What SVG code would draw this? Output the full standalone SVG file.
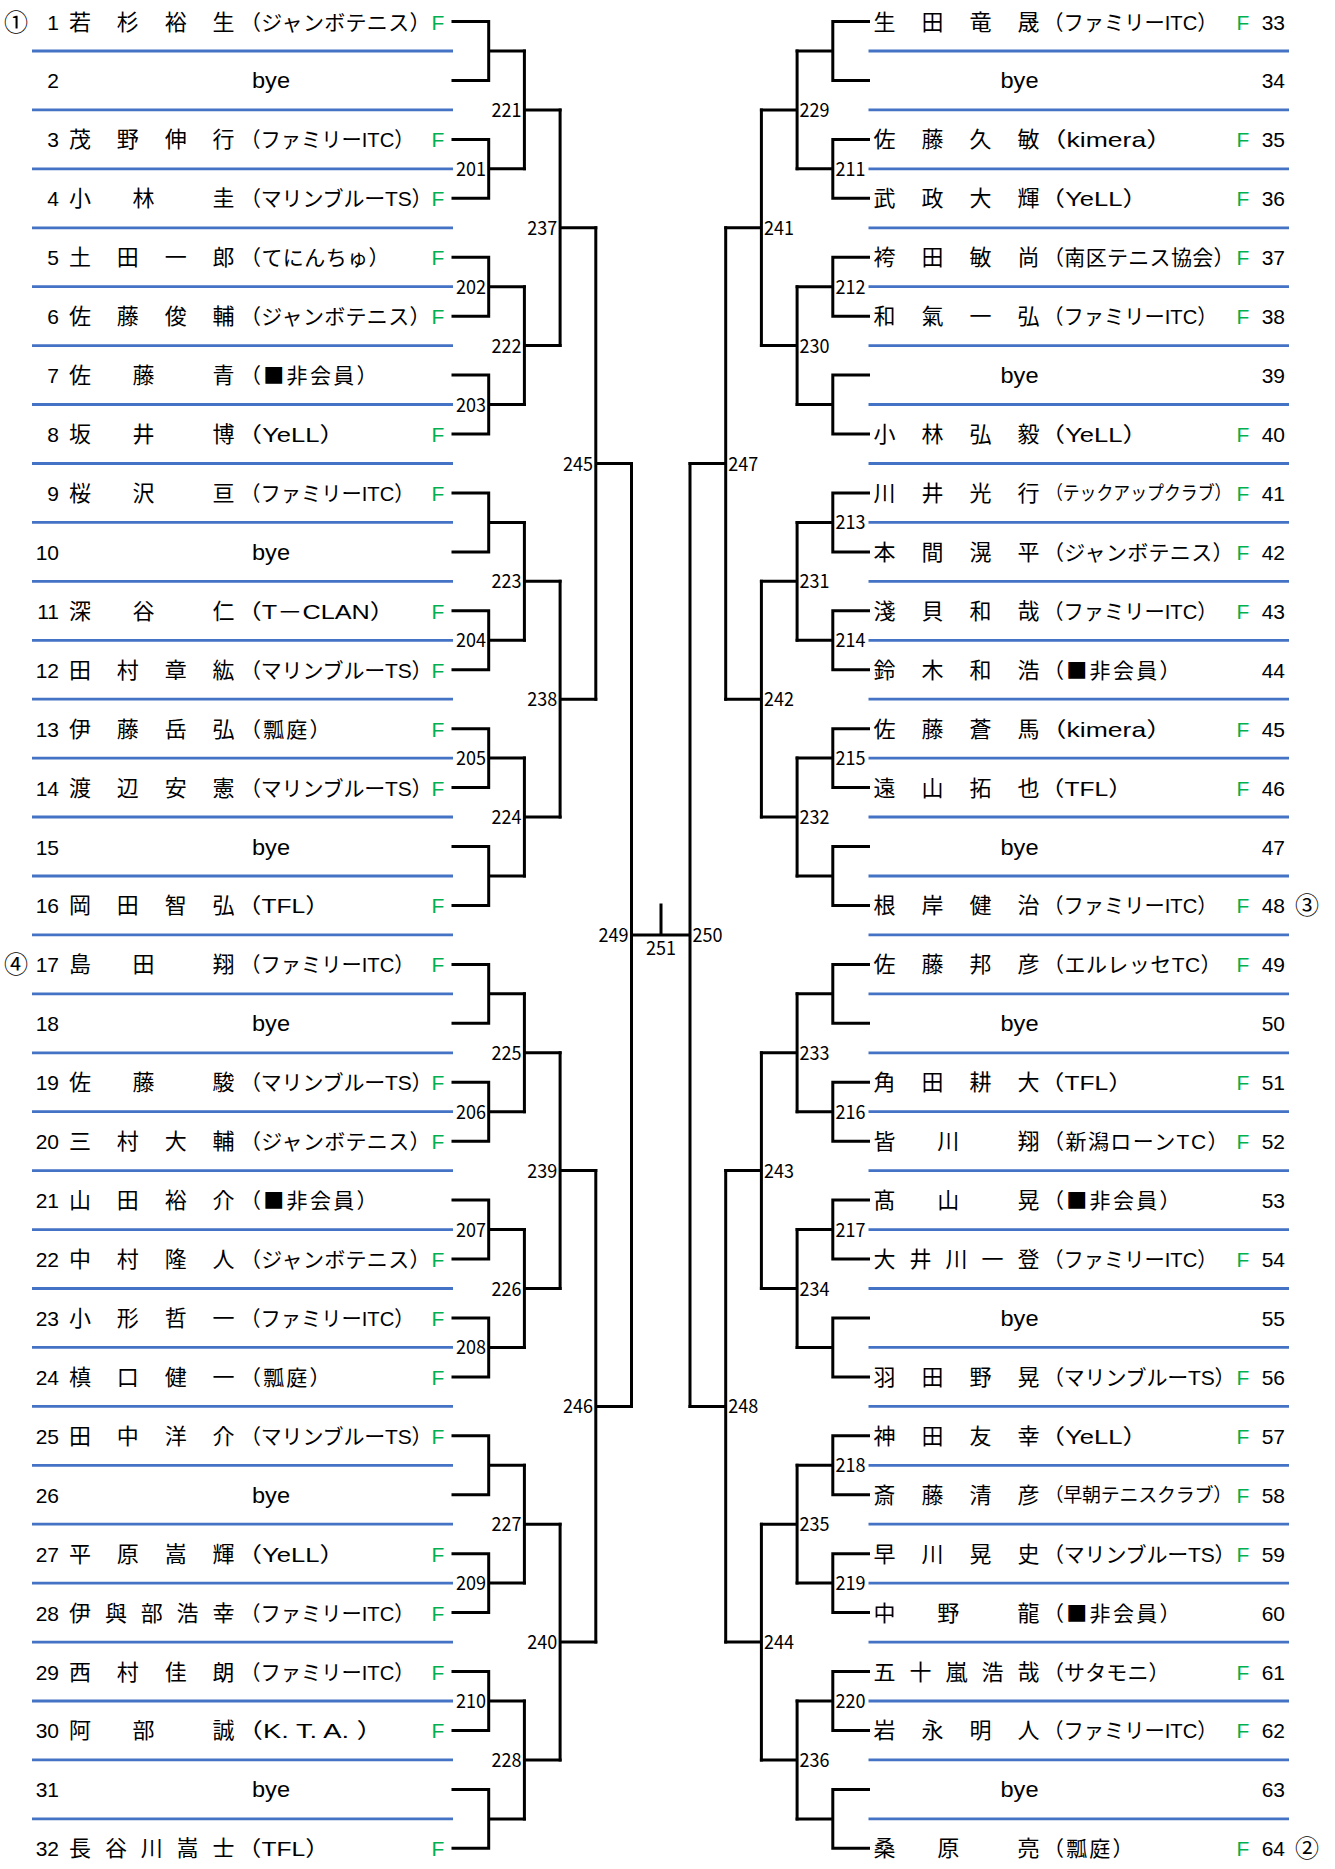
<svg xmlns="http://www.w3.org/2000/svg" width="1335" height="1869" viewBox="0 0 1335 1869">
<style>
text{font-family:"Noto Sans CJK JP",sans-serif;fill:#000}
.nm{font-size:22px;text-anchor:middle}
.cl{font-size:21px}
.sm{font-size:19px}
.lt{font-family:"Liberation Sans",sans-serif}
.no{font-family:"Liberation Sans","Noto Sans CJK JP",sans-serif;font-size:21px;text-anchor:end}
.f{font-family:"Liberation Sans",sans-serif;font-size:21px;fill:#00B050;text-anchor:middle}
.by{font-family:"Liberation Sans",sans-serif;font-size:22px}
.lb{font-family:"Liberation Sans",sans-serif;font-size:19px}
.mk{font-size:24px;text-anchor:middle}
.blue{fill:none;stroke:#4472C4;stroke-width:2.8}
.br{fill:none;stroke:#000;stroke-width:3;stroke-linecap:square;stroke-linejoin:miter}
</style>
<rect width="1335" height="1869" fill="#fff"/>
<g id="dividers">
<path class="blue" d="M32 51H453M32 109.9H453M32 168.8H453M32 227.8H453M32 286.7H453M32 345.6H453M32 404.5H453M32 463.5H453M32 522.4H453M32 581.3H453M32 640.3H453M32 699.2H453M32 758.1H453M32 817H453M32 876H453M32 934.9H453M32 993.8H453M32 1052.8H453M32 1111.7H453M32 1170.6H453M32 1229.6H453M32 1288.5H453M32 1347.4H453M32 1406.4H453M32 1465.3H453M32 1524.2H453M32 1583.1H453M32 1642.1H453M32 1701H453M32 1759.9H453M32 1818.9H453"/>
<path class="blue" d="M868.5 51H1289M868.5 109.9H1289M868.5 168.8H1289M868.5 227.8H1289M868.5 286.7H1289M868.5 345.6H1289M868.5 404.5H1289M868.5 463.5H1289M868.5 522.4H1289M868.5 581.3H1289M868.5 640.3H1289M868.5 699.2H1289M868.5 758.1H1289M868.5 817H1289M868.5 876H1289M868.5 934.9H1289M868.5 993.8H1289M868.5 1052.8H1289M868.5 1111.7H1289M868.5 1170.6H1289M868.5 1229.6H1289M868.5 1288.5H1289M868.5 1347.4H1289M868.5 1406.4H1289M868.5 1465.3H1289M868.5 1524.2H1289M868.5 1583.1H1289M868.5 1642.1H1289M868.5 1701H1289M868.5 1759.9H1289M868.5 1818.9H1289"/>
</g>
<g id="connectors">
<path class="br" d="M453 21.5H488.7V80.4H453M488.7 51H524.4M453 139.4H488.7V198.3H453M488.7 168.8H524.4M453 257.2H488.7V316.2H453M488.7 286.7H524.4M453 375.1H488.7V434H453M488.7 404.5H524.4M453 492.9H488.7V551.9H453M488.7 522.4H524.4M453 610.8H488.7V669.7H453M488.7 640.3H524.4M453 728.7H488.7V787.6H453M488.7 758.1H524.4M453 846.5H488.7V905.4H453M488.7 876H524.4M453 964.4H488.7V1023.3H453M488.7 993.8H524.4M453 1082.2H488.7V1141.2H453M488.7 1111.7H524.4M453 1200.1H488.7V1259H453M488.7 1229.6H524.4M453 1317.9H488.7V1376.9H453M488.7 1347.4H524.4M453 1435.8H488.7V1494.7H453M488.7 1465.3H524.4M453 1553.7H488.7V1612.6H453M488.7 1583.1H524.4M453 1671.5H488.7V1730.4H453M488.7 1701H524.4M453 1789.4H488.7V1848.3H453M488.7 1818.9H524.4"/>
<path class="br" d="M524.4 51V168.8M524.4 109.9H560.1M524.4 286.7V404.5M524.4 345.6H560.1M524.4 522.4V640.3M524.4 581.3H560.1M524.4 758.1V876M524.4 817H560.1M524.4 993.8V1111.7M524.4 1052.8H560.1M524.4 1229.6V1347.4M524.4 1288.5H560.1M524.4 1465.3V1583.1M524.4 1524.2H560.1M524.4 1701V1818.9M524.4 1759.9H560.1"/>
<path class="br" d="M560.1 109.9V345.6M560.1 227.8H595.8M560.1 581.3V817M560.1 699.2H595.8M560.1 1052.8V1288.5M560.1 1170.6H595.8M560.1 1524.2V1759.9M560.1 1642.1H595.8"/>
<path class="br" d="M595.8 227.8V699.2M595.8 463.5H631.5M595.8 1170.6V1642.1M595.8 1406.4H631.5"/>
<path class="br" d="M631.5 463.5V1406.4M631.5 934.9H690M690 463.5V1406.4M661 905V934.9"/>
<path class="br" d="M868.5 21.5H832.8V80.4H868.5M832.8 51H797.1M868.5 139.4H832.8V198.3H868.5M832.8 168.8H797.1M868.5 257.2H832.8V316.2H868.5M832.8 286.7H797.1M868.5 375.1H832.8V434H868.5M832.8 404.5H797.1M868.5 492.9H832.8V551.9H868.5M832.8 522.4H797.1M868.5 610.8H832.8V669.7H868.5M832.8 640.3H797.1M868.5 728.7H832.8V787.6H868.5M832.8 758.1H797.1M868.5 846.5H832.8V905.4H868.5M832.8 876H797.1M868.5 964.4H832.8V1023.3H868.5M832.8 993.8H797.1M868.5 1082.2H832.8V1141.2H868.5M832.8 1111.7H797.1M868.5 1200.1H832.8V1259H868.5M832.8 1229.6H797.1M868.5 1317.9H832.8V1376.9H868.5M832.8 1347.4H797.1M868.5 1435.8H832.8V1494.7H868.5M832.8 1465.3H797.1M868.5 1553.7H832.8V1612.6H868.5M832.8 1583.1H797.1M868.5 1671.5H832.8V1730.4H868.5M832.8 1701H797.1M868.5 1789.4H832.8V1848.3H868.5M832.8 1818.9H797.1"/>
<path class="br" d="M797.1 51V168.8M797.1 109.9H761.4M797.1 286.7V404.5M797.1 345.6H761.4M797.1 522.4V640.3M797.1 581.3H761.4M797.1 758.1V876M797.1 817H761.4M797.1 993.8V1111.7M797.1 1052.8H761.4M797.1 1229.6V1347.4M797.1 1288.5H761.4M797.1 1465.3V1583.1M797.1 1524.2H761.4M797.1 1701V1818.9M797.1 1759.9H761.4"/>
<path class="br" d="M761.4 109.9V345.6M761.4 227.8H725.7M761.4 581.3V817M761.4 699.2H725.7M761.4 1052.8V1288.5M761.4 1170.6H725.7M761.4 1524.2V1759.9M761.4 1642.1H725.7"/>
<path class="br" d="M725.7 227.8V699.2M725.7 463.5H690M725.7 1170.6V1642.1M725.7 1406.4H690"/>
</g>
<g id="match-labels" class="lb">
<text x="456" y="175.8" textLength="30" lengthAdjust="spacingAndGlyphs">201</text>
<text x="456" y="293.7" textLength="30" lengthAdjust="spacingAndGlyphs">202</text>
<text x="456" y="411.5" textLength="30" lengthAdjust="spacingAndGlyphs">203</text>
<text x="456" y="647.3" textLength="30" lengthAdjust="spacingAndGlyphs">204</text>
<text x="456" y="765.1" textLength="30" lengthAdjust="spacingAndGlyphs">205</text>
<text x="456" y="1118.7" textLength="30" lengthAdjust="spacingAndGlyphs">206</text>
<text x="456" y="1236.6" textLength="30" lengthAdjust="spacingAndGlyphs">207</text>
<text x="456" y="1354.4" textLength="30" lengthAdjust="spacingAndGlyphs">208</text>
<text x="456" y="1590.1" textLength="30" lengthAdjust="spacingAndGlyphs">209</text>
<text x="456" y="1708" textLength="30" lengthAdjust="spacingAndGlyphs">210</text>
<text x="491.5" y="116.9" textLength="30" lengthAdjust="spacingAndGlyphs">221</text>
<text x="491.5" y="352.6" textLength="30" lengthAdjust="spacingAndGlyphs">222</text>
<text x="491.5" y="588.3" textLength="30" lengthAdjust="spacingAndGlyphs">223</text>
<text x="491.5" y="824" textLength="30" lengthAdjust="spacingAndGlyphs">224</text>
<text x="491.5" y="1059.8" textLength="30" lengthAdjust="spacingAndGlyphs">225</text>
<text x="491.5" y="1295.5" textLength="30" lengthAdjust="spacingAndGlyphs">226</text>
<text x="491.5" y="1531.2" textLength="30" lengthAdjust="spacingAndGlyphs">227</text>
<text x="491.5" y="1766.9" textLength="30" lengthAdjust="spacingAndGlyphs">228</text>
<text x="527.2" y="234.8" textLength="30" lengthAdjust="spacingAndGlyphs">237</text>
<text x="527.2" y="706.2" textLength="30" lengthAdjust="spacingAndGlyphs">238</text>
<text x="527.2" y="1177.6" textLength="30" lengthAdjust="spacingAndGlyphs">239</text>
<text x="527.2" y="1649.1" textLength="30" lengthAdjust="spacingAndGlyphs">240</text>
<text x="563" y="470.5" textLength="30" lengthAdjust="spacingAndGlyphs">245</text>
<text x="563" y="1413.4" textLength="30" lengthAdjust="spacingAndGlyphs">246</text>
<text x="598.6" y="941.9" textLength="30" lengthAdjust="spacingAndGlyphs">249</text>
<text x="646" y="955" textLength="30" lengthAdjust="spacingAndGlyphs">251</text>
<text x="692.5" y="941.9" textLength="30" lengthAdjust="spacingAndGlyphs">250</text>
<text x="728.2" y="470.5" textLength="30" lengthAdjust="spacingAndGlyphs">247</text>
<text x="728.2" y="1413.4" textLength="30" lengthAdjust="spacingAndGlyphs">248</text>
<text x="763.9" y="234.8" textLength="30" lengthAdjust="spacingAndGlyphs">241</text>
<text x="763.9" y="706.2" textLength="30" lengthAdjust="spacingAndGlyphs">242</text>
<text x="763.9" y="1177.6" textLength="30" lengthAdjust="spacingAndGlyphs">243</text>
<text x="763.9" y="1649.1" textLength="30" lengthAdjust="spacingAndGlyphs">244</text>
<text x="799.6" y="116.9" textLength="30" lengthAdjust="spacingAndGlyphs">229</text>
<text x="799.6" y="352.6" textLength="30" lengthAdjust="spacingAndGlyphs">230</text>
<text x="799.6" y="588.3" textLength="30" lengthAdjust="spacingAndGlyphs">231</text>
<text x="799.6" y="824" textLength="30" lengthAdjust="spacingAndGlyphs">232</text>
<text x="799.6" y="1059.8" textLength="30" lengthAdjust="spacingAndGlyphs">233</text>
<text x="799.6" y="1295.5" textLength="30" lengthAdjust="spacingAndGlyphs">234</text>
<text x="799.6" y="1531.2" textLength="30" lengthAdjust="spacingAndGlyphs">235</text>
<text x="799.6" y="1766.9" textLength="30" lengthAdjust="spacingAndGlyphs">236</text>
<text x="835.5" y="175.8" textLength="30" lengthAdjust="spacingAndGlyphs">211</text>
<text x="835.5" y="293.7" textLength="30" lengthAdjust="spacingAndGlyphs">212</text>
<text x="835.5" y="529.4" textLength="30" lengthAdjust="spacingAndGlyphs">213</text>
<text x="835.5" y="647.3" textLength="30" lengthAdjust="spacingAndGlyphs">214</text>
<text x="835.5" y="765.1" textLength="30" lengthAdjust="spacingAndGlyphs">215</text>
<text x="835.5" y="1118.7" textLength="30" lengthAdjust="spacingAndGlyphs">216</text>
<text x="835.5" y="1236.6" textLength="30" lengthAdjust="spacingAndGlyphs">217</text>
<text x="835.5" y="1472.3" textLength="30" lengthAdjust="spacingAndGlyphs">218</text>
<text x="835.5" y="1590.1" textLength="30" lengthAdjust="spacingAndGlyphs">219</text>
<text x="835.5" y="1708" textLength="30" lengthAdjust="spacingAndGlyphs">220</text>
</g>
<g id="seeds" class="mk">
<text x="16" y="30.5">①</text>
<text x="16" y="973.4">④</text>
<text x="1307" y="914.4">③</text>
<text x="1307" y="1857.3">②</text>
</g>
<g id="left-players">
<g id="p1" transform="translate(0,21.5)"><text class="no" x="59" y="8">1</text><text class="nm" x="80 127.8 175.7 223.5" y="8">若杉裕生</text><text class="cl" x="240" y="8" textLength="190.5" lengthAdjust="spacing">（ジャンボテニス）</text><text class="f" x="438" y="8">F</text></g>
<g id="p2" transform="translate(0,80.4)"><text class="no" x="59" y="8">2</text><text class="by" x="252" y="8" textLength="38" lengthAdjust="spacingAndGlyphs">bye</text></g>
<g id="p3" transform="translate(0,139.4)"><text class="no" x="59" y="8">3</text><text class="nm" x="80 127.8 175.7 223.5" y="8">茂野伸行</text><text class="cl" x="240.3" y="8" textLength="174.3" lengthAdjust="spacingAndGlyphs">（ファミリー<tspan class="lt">ITC</tspan>）</text><text class="f" x="438" y="8">F</text></g>
<g id="p4" transform="translate(0,198.3)"><text class="no" x="59" y="8">4</text><text class="nm" x="80 143.6 223.5" y="8">小林圭</text><text class="cl" x="240" y="8" textLength="192.5" lengthAdjust="spacing">（マリンブルー<tspan class="lt">TS</tspan>）</text><text class="f" x="438" y="8">F</text></g>
<g id="p5" transform="translate(0,257.2)"><text class="no" x="59" y="8">5</text><text class="nm" x="80 127.8 175.7 223.5" y="8">土田一郎</text><text class="cl" x="240" y="8" textLength="149.5" lengthAdjust="spacing">（てにんちゅ）</text><text class="f" x="438" y="8">F</text></g>
<g id="p6" transform="translate(0,316.2)"><text class="no" x="59" y="8">6</text><text class="nm" x="80 127.8 175.7 223.5" y="8">佐藤俊輔</text><text class="cl" x="240" y="8" textLength="190.5" lengthAdjust="spacing">（ジャンボテニス）</text><text class="f" x="438" y="8">F</text></g>
<g id="p7" transform="translate(0,375.1)"><text class="no" x="59" y="8">7</text><text class="nm" x="80 143.6 223.5" y="8">佐藤青</text><text class="cl" x="240" y="8" textLength="137.5" lengthAdjust="spacing">（■非会員）</text></g>
<g id="p8" transform="translate(0,434)"><text class="no" x="59" y="8">8</text><text class="nm" x="80 143.6 223.5" y="8">坂井博</text><text class="cl" x="236.6" y="8" textLength="108.5" lengthAdjust="spacingAndGlyphs">（<tspan class="lt">YeLL</tspan>）</text><text class="f" x="438" y="8">F</text></g>
<g id="p9" transform="translate(0,492.9)"><text class="no" x="59" y="8">9</text><text class="nm" x="80 143.6 223.5" y="8">桜沢亘</text><text class="cl" x="240.3" y="8" textLength="174.3" lengthAdjust="spacingAndGlyphs">（ファミリー<tspan class="lt">ITC</tspan>）</text><text class="f" x="438" y="8">F</text></g>
<g id="p10" transform="translate(0,551.9)"><text class="no" x="59" y="8">10</text><text class="by" x="252" y="8" textLength="38" lengthAdjust="spacingAndGlyphs">bye</text></g>
<g id="p11" transform="translate(0,610.8)"><text class="no" x="59" y="8">11</text><text class="nm" x="80 143.6 223.5" y="8">深谷仁</text><text class="cl" x="236.6" y="8" textLength="158.5" lengthAdjust="spacingAndGlyphs">（<tspan class="lt">T</tspan>－<tspan class="lt">CLAN</tspan>）</text><text class="f" x="438" y="8">F</text></g>
<g id="p12" transform="translate(0,669.7)"><text class="no" x="59" y="8">12</text><text class="nm" x="80 127.8 175.7 223.5" y="8">田村章紘</text><text class="cl" x="240" y="8" textLength="192.5" lengthAdjust="spacing">（マリンブルー<tspan class="lt">TS</tspan>）</text><text class="f" x="438" y="8">F</text></g>
<g id="p13" transform="translate(0,728.7)"><text class="no" x="59" y="8">13</text><text class="nm" x="80 127.8 175.7 223.5" y="8">伊藤岳弘</text><text class="cl" x="240" y="8" textLength="90.5" lengthAdjust="spacing">（瓢庭）</text><text class="f" x="438" y="8">F</text></g>
<g id="p14" transform="translate(0,787.6)"><text class="no" x="59" y="8">14</text><text class="nm" x="80 127.8 175.7 223.5" y="8">渡辺安憲</text><text class="cl" x="240" y="8" textLength="192.5" lengthAdjust="spacing">（マリンブルー<tspan class="lt">TS</tspan>）</text><text class="f" x="438" y="8">F</text></g>
<g id="p15" transform="translate(0,846.5)"><text class="no" x="59" y="8">15</text><text class="by" x="252" y="8" textLength="38" lengthAdjust="spacingAndGlyphs">bye</text></g>
<g id="p16" transform="translate(0,905.4)"><text class="no" x="59" y="8">16</text><text class="nm" x="80 127.8 175.7 223.5" y="8">岡田智弘</text><text class="cl" x="236.8" y="8" textLength="93" lengthAdjust="spacingAndGlyphs">（<tspan class="lt">TFL</tspan>）</text><text class="f" x="438" y="8">F</text></g>
<g id="p17" transform="translate(0,964.4)"><text class="no" x="59" y="8">17</text><text class="nm" x="80 143.6 223.5" y="8">島田翔</text><text class="cl" x="240.3" y="8" textLength="174.3" lengthAdjust="spacingAndGlyphs">（ファミリー<tspan class="lt">ITC</tspan>）</text><text class="f" x="438" y="8">F</text></g>
<g id="p18" transform="translate(0,1023.3)"><text class="no" x="59" y="8">18</text><text class="by" x="252" y="8" textLength="38" lengthAdjust="spacingAndGlyphs">bye</text></g>
<g id="p19" transform="translate(0,1082.2)"><text class="no" x="59" y="8">19</text><text class="nm" x="80 143.6 223.5" y="8">佐藤駿</text><text class="cl" x="240" y="8" textLength="192.5" lengthAdjust="spacing">（マリンブルー<tspan class="lt">TS</tspan>）</text><text class="f" x="438" y="8">F</text></g>
<g id="p20" transform="translate(0,1141.2)"><text class="no" x="59" y="8">20</text><text class="nm" x="80 127.8 175.7 223.5" y="8">三村大輔</text><text class="cl" x="240" y="8" textLength="190.5" lengthAdjust="spacing">（ジャンボテニス）</text><text class="f" x="438" y="8">F</text></g>
<g id="p21" transform="translate(0,1200.1)"><text class="no" x="59" y="8">21</text><text class="nm" x="80 127.8 175.7 223.5" y="8">山田裕介</text><text class="cl" x="240" y="8" textLength="137.5" lengthAdjust="spacing">（■非会員）</text></g>
<g id="p22" transform="translate(0,1259)"><text class="no" x="59" y="8">22</text><text class="nm" x="80 127.8 175.7 223.5" y="8">中村隆人</text><text class="cl" x="240" y="8" textLength="190.5" lengthAdjust="spacing">（ジャンボテニス）</text><text class="f" x="438" y="8">F</text></g>
<g id="p23" transform="translate(0,1317.9)"><text class="no" x="59" y="8">23</text><text class="nm" x="80 127.8 175.7 223.5" y="8">小形哲一</text><text class="cl" x="240.3" y="8" textLength="174.3" lengthAdjust="spacingAndGlyphs">（ファミリー<tspan class="lt">ITC</tspan>）</text><text class="f" x="438" y="8">F</text></g>
<g id="p24" transform="translate(0,1376.9)"><text class="no" x="59" y="8">24</text><text class="nm" x="80 127.8 175.7 223.5" y="8">槙口健一</text><text class="cl" x="240" y="8" textLength="90.5" lengthAdjust="spacing">（瓢庭）</text><text class="f" x="438" y="8">F</text></g>
<g id="p25" transform="translate(0,1435.8)"><text class="no" x="59" y="8">25</text><text class="nm" x="80 127.8 175.7 223.5" y="8">田中洋介</text><text class="cl" x="240" y="8" textLength="192.5" lengthAdjust="spacing">（マリンブルー<tspan class="lt">TS</tspan>）</text><text class="f" x="438" y="8">F</text></g>
<g id="p26" transform="translate(0,1494.7)"><text class="no" x="59" y="8">26</text><text class="by" x="252" y="8" textLength="38" lengthAdjust="spacingAndGlyphs">bye</text></g>
<g id="p27" transform="translate(0,1553.7)"><text class="no" x="59" y="8">27</text><text class="nm" x="80 127.8 175.7 223.5" y="8">平原嵩輝</text><text class="cl" x="236.6" y="8" textLength="108.5" lengthAdjust="spacingAndGlyphs">（<tspan class="lt">YeLL</tspan>）</text><text class="f" x="438" y="8">F</text></g>
<g id="p28" transform="translate(0,1612.6)"><text class="no" x="59" y="8">28</text><text class="nm" x="80 115.9 151.8 187.6 223.5" y="8">伊與部浩幸</text><text class="cl" x="240.3" y="8" textLength="174.3" lengthAdjust="spacingAndGlyphs">（ファミリー<tspan class="lt">ITC</tspan>）</text><text class="f" x="438" y="8">F</text></g>
<g id="p29" transform="translate(0,1671.5)"><text class="no" x="59" y="8">29</text><text class="nm" x="80 127.8 175.7 223.5" y="8">西村佳朗</text><text class="cl" x="240.3" y="8" textLength="174.3" lengthAdjust="spacingAndGlyphs">（ファミリー<tspan class="lt">ITC</tspan>）</text><text class="f" x="438" y="8">F</text></g>
<g id="p30" transform="translate(0,1730.4)"><text class="no" x="59" y="8">30</text><text class="nm" x="80 143.6 223.5" y="8">阿部誠</text><text class="cl" x="235.7" y="8" textLength="148.2" lengthAdjust="spacingAndGlyphs">（<tspan class="lt">K. T. A. </tspan>）</text><text class="f" x="438" y="8">F</text></g>
<g id="p31" transform="translate(0,1789.4)"><text class="no" x="59" y="8">31</text><text class="by" x="252" y="8" textLength="38" lengthAdjust="spacingAndGlyphs">bye</text></g>
<g id="p32" transform="translate(0,1848.3)"><text class="no" x="59" y="8">32</text><text class="nm" x="80 115.9 151.8 187.6 223.5" y="8">長谷川嵩士</text><text class="cl" x="236.8" y="8" textLength="93" lengthAdjust="spacingAndGlyphs">（<tspan class="lt">TFL</tspan>）</text><text class="f" x="438" y="8">F</text></g>
</g>
<g id="right-players">
<g id="p33" transform="translate(0,21.5)"><text class="nm" x="884.5 932.5 980.5 1028.5" y="8">生田竜晟</text><text class="cl" x="1043.3" y="8" textLength="174.3" lengthAdjust="spacingAndGlyphs">（ファミリー<tspan class="lt">ITC</tspan>）</text><text class="f" x="1243" y="8">F</text><text class="no" x="1285" y="8">33</text></g>
<g id="p34" transform="translate(0,80.4)"><text class="by" x="1000.5" y="8" textLength="38" lengthAdjust="spacingAndGlyphs">bye</text><text class="no" x="1285" y="8">34</text></g>
<g id="p35" transform="translate(0,139.4)"><text class="nm" x="884.5 932.5 980.5 1028.5" y="8">佐藤久敏</text><text class="cl" x="1040" y="8" textLength="132.7" lengthAdjust="spacingAndGlyphs">（<tspan class="lt">kimera</tspan>）</text><text class="f" x="1243" y="8">F</text><text class="no" x="1285" y="8">35</text></g>
<g id="p36" transform="translate(0,198.3)"><text class="nm" x="884.5 932.5 980.5 1028.5" y="8">武政大輝</text><text class="cl" x="1039.6" y="8" textLength="108.5" lengthAdjust="spacingAndGlyphs">（<tspan class="lt">YeLL</tspan>）</text><text class="f" x="1243" y="8">F</text><text class="no" x="1285" y="8">36</text></g>
<g id="p37" transform="translate(0,257.2)"><text class="nm" x="884.5 932.5 980.5 1028.5" y="8">袴田敏尚</text><text class="cl" x="1043" y="8" textLength="191.5" lengthAdjust="spacing">（南区テニス協会）</text><text class="f" x="1243" y="8">F</text><text class="no" x="1285" y="8">37</text></g>
<g id="p38" transform="translate(0,316.2)"><text class="nm" x="884.5 932.5 980.5 1028.5" y="8">和氣一弘</text><text class="cl" x="1043.3" y="8" textLength="174.3" lengthAdjust="spacingAndGlyphs">（ファミリー<tspan class="lt">ITC</tspan>）</text><text class="f" x="1243" y="8">F</text><text class="no" x="1285" y="8">38</text></g>
<g id="p39" transform="translate(0,375.1)"><text class="by" x="1000.5" y="8" textLength="38" lengthAdjust="spacingAndGlyphs">bye</text><text class="no" x="1285" y="8">39</text></g>
<g id="p40" transform="translate(0,434)"><text class="nm" x="884.5 932.5 980.5 1028.5" y="8">小林弘毅</text><text class="cl" x="1039.6" y="8" textLength="108.5" lengthAdjust="spacingAndGlyphs">（<tspan class="lt">YeLL</tspan>）</text><text class="f" x="1243" y="8">F</text><text class="no" x="1285" y="8">40</text></g>
<g id="p41" transform="translate(0,492.9)"><text class="nm" x="884.5 932.5 980.5 1028.5" y="8">川井光行</text><text class="cl sm" x="1045.9" y="7.3" textLength="185.5" lengthAdjust="spacingAndGlyphs">（テックアップクラブ）</text><text class="f" x="1243" y="8">F</text><text class="no" x="1285" y="8">41</text></g>
<g id="p42" transform="translate(0,551.9)"><text class="nm" x="884.5 932.5 980.5 1028.5" y="8">本間滉平</text><text class="cl" x="1043" y="8" textLength="190.5" lengthAdjust="spacing">（ジャンボテニス）</text><text class="f" x="1243" y="8">F</text><text class="no" x="1285" y="8">42</text></g>
<g id="p43" transform="translate(0,610.8)"><text class="nm" x="884.5 932.5 980.5 1028.5" y="8">淺貝和哉</text><text class="cl" x="1043.3" y="8" textLength="174.3" lengthAdjust="spacingAndGlyphs">（ファミリー<tspan class="lt">ITC</tspan>）</text><text class="f" x="1243" y="8">F</text><text class="no" x="1285" y="8">43</text></g>
<g id="p44" transform="translate(0,669.7)"><text class="nm" x="884.5 932.5 980.5 1028.5" y="8">鈴木和浩</text><text class="cl" x="1043" y="8" textLength="137.5" lengthAdjust="spacing">（■非会員）</text><text class="no" x="1285" y="8">44</text></g>
<g id="p45" transform="translate(0,728.7)"><text class="nm" x="884.5 932.5 980.5 1028.5" y="8">佐藤蒼馬</text><text class="cl" x="1040" y="8" textLength="132.7" lengthAdjust="spacingAndGlyphs">（<tspan class="lt">kimera</tspan>）</text><text class="f" x="1243" y="8">F</text><text class="no" x="1285" y="8">45</text></g>
<g id="p46" transform="translate(0,787.6)"><text class="nm" x="884.5 932.5 980.5 1028.5" y="8">遠山拓也</text><text class="cl" x="1039.8" y="8" textLength="93" lengthAdjust="spacingAndGlyphs">（<tspan class="lt">TFL</tspan>）</text><text class="f" x="1243" y="8">F</text><text class="no" x="1285" y="8">46</text></g>
<g id="p47" transform="translate(0,846.5)"><text class="by" x="1000.5" y="8" textLength="38" lengthAdjust="spacingAndGlyphs">bye</text><text class="no" x="1285" y="8">47</text></g>
<g id="p48" transform="translate(0,905.4)"><text class="nm" x="884.5 932.5 980.5 1028.5" y="8">根岸健治</text><text class="cl" x="1043.3" y="8" textLength="174.3" lengthAdjust="spacingAndGlyphs">（ファミリー<tspan class="lt">ITC</tspan>）</text><text class="f" x="1243" y="8">F</text><text class="no" x="1285" y="8">48</text></g>
<g id="p49" transform="translate(0,964.4)"><text class="nm" x="884.5 932.5 980.5 1028.5" y="8">佐藤邦彦</text><text class="cl" x="1043" y="8" textLength="178.5" lengthAdjust="spacing">（エルレッセ<tspan class="lt">TC</tspan>）</text><text class="f" x="1243" y="8">F</text><text class="no" x="1285" y="8">49</text></g>
<g id="p50" transform="translate(0,1023.3)"><text class="by" x="1000.5" y="8" textLength="38" lengthAdjust="spacingAndGlyphs">bye</text><text class="no" x="1285" y="8">50</text></g>
<g id="p51" transform="translate(0,1082.2)"><text class="nm" x="884.5 932.5 980.5 1028.5" y="8">角田耕大</text><text class="cl" x="1039.8" y="8" textLength="93" lengthAdjust="spacingAndGlyphs">（<tspan class="lt">TFL</tspan>）</text><text class="f" x="1243" y="8">F</text><text class="no" x="1285" y="8">51</text></g>
<g id="p52" transform="translate(0,1141.2)"><text class="nm" x="884.5 948.3 1028.5" y="8">皆川翔</text><text class="cl" x="1043" y="8" textLength="185.5" lengthAdjust="spacing">（新潟ローン<tspan class="lt">TC</tspan>）</text><text class="f" x="1243" y="8">F</text><text class="no" x="1285" y="8">52</text></g>
<g id="p53" transform="translate(0,1200.1)"><text class="nm" x="884.5 948.3 1028.5" y="8">髙山晃</text><text class="cl" x="1043" y="8" textLength="137.5" lengthAdjust="spacing">（■非会員）</text><text class="no" x="1285" y="8">53</text></g>
<g id="p54" transform="translate(0,1259)"><text class="nm" x="884.5 920.5 956.5 992.5 1028.5" y="8">大井川一登</text><text class="cl" x="1043.3" y="8" textLength="174.3" lengthAdjust="spacingAndGlyphs">（ファミリー<tspan class="lt">ITC</tspan>）</text><text class="f" x="1243" y="8">F</text><text class="no" x="1285" y="8">54</text></g>
<g id="p55" transform="translate(0,1317.9)"><text class="by" x="1000.5" y="8" textLength="38" lengthAdjust="spacingAndGlyphs">bye</text><text class="no" x="1285" y="8">55</text></g>
<g id="p56" transform="translate(0,1376.9)"><text class="nm" x="884.5 932.5 980.5 1028.5" y="8">羽田野晃</text><text class="cl" x="1043" y="8" textLength="192.5" lengthAdjust="spacing">（マリンブルー<tspan class="lt">TS</tspan>）</text><text class="f" x="1243" y="8">F</text><text class="no" x="1285" y="8">56</text></g>
<g id="p57" transform="translate(0,1435.8)"><text class="nm" x="884.5 932.5 980.5 1028.5" y="8">神田友幸</text><text class="cl" x="1039.6" y="8" textLength="108.5" lengthAdjust="spacingAndGlyphs">（<tspan class="lt">YeLL</tspan>）</text><text class="f" x="1243" y="8">F</text><text class="no" x="1285" y="8">57</text></g>
<g id="p58" transform="translate(0,1494.7)"><text class="nm" x="884.5 932.5 980.5 1028.5" y="8">斎藤清彦</text><text class="cl sm" x="1044.5" y="7.3" textLength="187.7" lengthAdjust="spacing">（早朝テニスクラブ）</text><text class="f" x="1243" y="8">F</text><text class="no" x="1285" y="8">58</text></g>
<g id="p59" transform="translate(0,1553.7)"><text class="nm" x="884.5 932.5 980.5 1028.5" y="8">早川晃史</text><text class="cl" x="1043" y="8" textLength="192.5" lengthAdjust="spacing">（マリンブルー<tspan class="lt">TS</tspan>）</text><text class="f" x="1243" y="8">F</text><text class="no" x="1285" y="8">59</text></g>
<g id="p60" transform="translate(0,1612.6)"><text class="nm" x="884.5 948.3 1028.5" y="8">中野龍</text><text class="cl" x="1043" y="8" textLength="137.5" lengthAdjust="spacing">（■非会員）</text><text class="no" x="1285" y="8">60</text></g>
<g id="p61" transform="translate(0,1671.5)"><text class="nm" x="884.5 920.5 956.5 992.5 1028.5" y="8">五十嵐浩哉</text><text class="cl" x="1043" y="8" textLength="126.5" lengthAdjust="spacing">（サタモニ）</text><text class="f" x="1243" y="8">F</text><text class="no" x="1285" y="8">61</text></g>
<g id="p62" transform="translate(0,1730.4)"><text class="nm" x="884.5 932.5 980.5 1028.5" y="8">岩永明人</text><text class="cl" x="1043.3" y="8" textLength="174.3" lengthAdjust="spacingAndGlyphs">（ファミリー<tspan class="lt">ITC</tspan>）</text><text class="f" x="1243" y="8">F</text><text class="no" x="1285" y="8">62</text></g>
<g id="p63" transform="translate(0,1789.4)"><text class="by" x="1000.5" y="8" textLength="38" lengthAdjust="spacingAndGlyphs">bye</text><text class="no" x="1285" y="8">63</text></g>
<g id="p64" transform="translate(0,1848.3)"><text class="nm" x="884.5 948.3 1028.5" y="8">桑原亮</text><text class="cl" x="1043" y="8" textLength="90.5" lengthAdjust="spacing">（瓢庭）</text><text class="f" x="1243" y="8">F</text><text class="no" x="1285" y="8">64</text></g>
</g>
</svg>
